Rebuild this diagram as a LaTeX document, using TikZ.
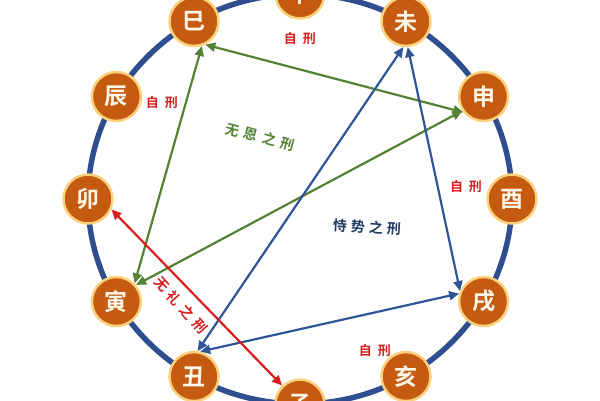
\documentclass[tikz,border=0pt]{standalone}
\usepackage{fontspec}
\setmainfont{Noto Sans CJK SC}[BoldFont={Noto Sans CJK SC Bold}]
\usetikzlibrary{arrows.meta}
\definecolor{ringblue}{HTML}{2F4E8F}
\definecolor{rust}{HTML}{C55A11}
\definecolor{glow}{HTML}{FAD27E}
\definecolor{cream}{HTML}{FFF6E8}
\definecolor{xingred}{HTML}{D81E1E}
\definecolor{xinggreen}{HTML}{548235}
\definecolor{xingblue}{HTML}{2F5597}
\definecolor{labelblue}{HTML}{203864}
\begin{document}
\begin{tikzpicture}[x=1pt,y=1pt]
\tikzstyle{branch}=[draw=glow,line width=2.5pt,shape=circle,fill=rust,minimum size=49pt,inner sep=0pt,text=cream,font=\fontsize{23}{23}\selectfont\bfseries]
\tikzstyle{zixing}=[text=xingred,font=\fontsize{13}{13}\selectfont\bfseries]
\tikzstyle{xinglabel}=[font=\fontsize{14}{14}\selectfont\bfseries]
\tikzstyle{link}=[line width=2.2pt,{Triangle[length=10pt,width=9pt]}-{Triangle[length=10pt,width=9pt]}]
\useasboundingbox (-300,-201) rectangle (300,199);

\draw[ringblue,line width=5.5pt] (0,0) ellipse [x radius=212pt,y radius=205pt];

\node[branch] at (90:212pt and 205pt) (wu) {午};
\node[branch] at (60:212pt and 205pt) (wei) {未};
\node[branch] at (30:212pt and 205pt) (shen) {申};
\node[branch] at (0:212pt and 205pt) (you) {酉};
\node[branch] at (-30:212pt and 205pt) (xu) {戌};
\node[branch] at (-60:212pt and 205pt) (hai) {亥};
\node[branch] at (-90:212pt and 205pt) (zi) {子};
\node[branch] at (-120:212pt and 205pt) (chou) {丑};
\node[branch] at (-150:212pt and 205pt) (yin) {寅};
\node[branch] at (180:212pt and 205pt) (mao) {卯};
\node[branch] at (150:212pt and 205pt) (chen) {辰};
\node[branch] at (120:212pt and 205pt) (si) {巳};

\draw[link,xinggreen] (si.-64) -- (shen.-142);
\draw[link,xinggreen] (si.-72) -- (yin.45);
\draw[link,xinggreen] (yin.40) -- (shen.-146);

\draw[link,xingblue] (wei.-96) -- (chou.82);
\draw[link,xingblue] (wei.-86) -- (xu.156);
\draw[link,xingblue] (chou.76) -- (xu.162);

\draw[link,xingred] (mao.-24) -- (zi.134);

\node[zixing] at (0,160) (z1) {自\hspace{6pt}刑};
\node[zixing] at (-138,96) (z2) {自\hspace{6pt}刑};
\node[zixing] at (166,12) (z3) {自\hspace{6pt}刑};
\node[zixing] at (75,-152) (z4) {自\hspace{6pt}刑};

\node[xinglabel,text=xinggreen,rotate=-15] at (-40,62) (wuen) {无\hspace{5pt}恩\hspace{5pt}之\hspace{5pt}刑};
\node[xinglabel,text=labelblue,rotate=-4] at (67,-28) (shishi) {恃\hspace{4pt}势\hspace{4pt}之\hspace{4pt}刑};
\node[xinglabel,text=xingred,rotate=-48] at (-119,-106) (wuli) {无\hspace{5pt}礼\hspace{5pt}之\hspace{5pt}刑};
\end{tikzpicture}
\end{document}
